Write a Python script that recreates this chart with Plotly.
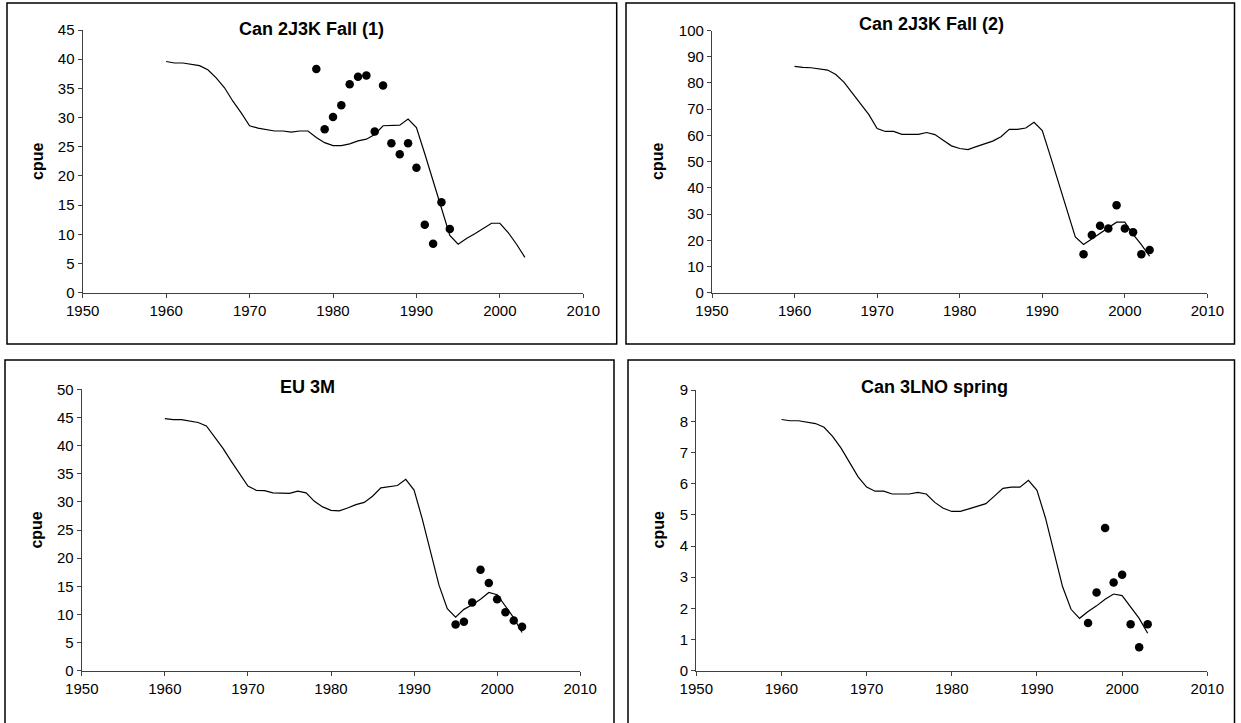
import plotly.graph_objects as go

W, H = 1241, 723

# ---------------- data ----------------
line_years = list(range(1960, 2004))

titles = ["Can 2J3K Fall (1)", "Can 2J3K Fall (2)", "EU 3M", "Can 3LNO spring"]

line_2j3k_1 = [39.6, 39.35, 39.35, 39.1, 38.9, 38.2, 36.8, 35.1, 32.8, 30.8,
               28.6, 28.2, 28.0, 27.7, 27.7, 27.5, 27.7, 27.7, 26.6, 25.7,
               25.2, 25.2, 25.5, 26.0, 26.3, 27.1, 28.6, 28.6, 28.7, 29.75,
               28.3, 23.8, 19.2, 14.3, 9.8, 8.3, 9.3, 10.1, 11.0, 11.9,
               11.9, 10.3, 8.3, 6.05]
pts_2j3k_1_years = [1978, 1979, 1980, 1981, 1982, 1983, 1984, 1985, 1986,
                    1987, 1988, 1989, 1990, 1991, 1992, 1993, 1994]
pts_2j3k_1 = [38.3, 28.0, 30.1, 32.1, 35.7, 37.0, 37.2, 27.6, 35.5,
              25.6, 23.7, 25.6, 21.4, 11.65, 8.4, 15.5, 10.9]

line_2j3k_2 = [86.3, 85.9, 85.8, 85.4, 84.9, 83.2, 80.2, 76.1, 71.9, 67.9,
               62.6, 61.5, 61.5, 60.4, 60.4, 60.4, 61.1, 60.3, 58.1, 56.0,
               55.0, 54.6, 55.7, 56.7, 57.8, 59.5, 62.3, 62.3, 62.8, 65.0,
               61.8, 51.9, 41.5, 30.9, 21.3, 18.4, 20.5, 22.7, 24.9, 26.9,
               26.9, 22.2, 18.3, 13.9]
pts_2j3k_2_years = [1995, 1996, 1997, 1998, 1999, 2000, 2001, 2002, 2003]
pts_2j3k_2 = [14.7, 22.0, 25.5, 24.5, 33.4, 24.5, 23.1, 14.7, 16.3]

line_eu3m = [44.8, 44.6, 44.6, 44.4, 44.1, 43.5, 41.6, 39.5, 37.2, 35.0,
             32.8, 32.05, 32.0, 31.6, 31.5, 31.5, 31.9, 31.6, 30.1, 29.1,
             28.5, 28.4, 28.9, 29.5, 29.9, 31.0, 32.5, 32.7, 32.9, 34.0,
             32.1, 26.9, 21.3, 15.2, 11.0, 9.5, 10.9, 11.7, 12.7, 13.9,
             13.5, 11.4, 9.4, 6.8]
pts_eu3m_years = [1995, 1996, 1997, 1998, 1999, 2000, 2001, 2002, 2003]
pts_eu3m = [8.2, 8.7, 12.1, 17.95, 15.6, 12.7, 10.4, 8.9, 7.8]

line_3lno = [8.06, 8.02, 8.02, 7.98, 7.93, 7.81, 7.52, 7.14, 6.67, 6.22,
             5.89, 5.76, 5.76, 5.67, 5.67, 5.67, 5.72, 5.67, 5.40, 5.21,
             5.11, 5.11, 5.19, 5.28, 5.36, 5.60, 5.85, 5.89, 5.89, 6.11,
             5.79, 4.90, 3.77, 2.70, 1.97, 1.68, 1.90, 2.08, 2.29, 2.46,
             2.41, 2.06, 1.68, 1.20]
pts_3lno_years = [1996, 1997, 1998, 1999, 2000, 2001, 2002, 2003]
pts_3lno = [1.53, 2.51, 4.58, 2.83, 3.08, 1.49, 0.75, 1.49]

x_ticks = [1950, 1960, 1970, 1980, 1990, 2000, 2010]
y_max = [45, 100, 50, 9]
y_step = [5, 10, 5, 1]

# ---------------- layout geometry (pixels) ----------------
plot_px = [  # x0, x1, ytop, ybottom
    (82.7, 583.3, 30.0, 292.7),
    (712.0, 1207.4, 30.5, 292.7),
    (81.8, 580.2, 389.3, 670.7),
    (696.3, 1207.3, 390.2, 670.7),
]
box_px = [
    (7, 616.7, 3, 344),
    (626, 1234.5, 3, 344),
    (5, 614, 360, 726),
    (628, 1234.5, 360, 726),
]
title_px = [(311.5, 29.5), (931, 24), (307.5, 387), (934, 387)]
ylab_px = [(37.5, 161.5), (657.5, 161.5), (35.6, 530), (657.5, 530)]

def fx(p):
    return p / W

def fy(p):
    return 1 - p / H

lines = [line_2j3k_1, line_2j3k_2, line_eu3m, line_3lno]
pts_x = [pts_2j3k_1_years, pts_2j3k_2_years, pts_eu3m_years, pts_3lno_years]
pts_y = [pts_2j3k_1, pts_2j3k_2, pts_eu3m, pts_3lno]

FONT = "Liberation Sans, Arial, sans-serif"
fig = go.Figure()
layout = dict(template="none", width=W, height=H,
              margin=dict(l=0, r=0, t=0, b=0, pad=0, autoexpand=False),
              paper_bgcolor="white", plot_bgcolor="white", showlegend=False,
              font=dict(family=FONT, color="black"))
shapes, annots = [], []

for i in range(4):
    n = "" if i == 0 else str(i + 1)
    xa, ya = "x" + n, "y" + n
    fig.add_trace(go.Scatter(x=line_years, y=lines[i], mode="lines",
                             line=dict(color="black", width=1.2),
                             xaxis=xa, yaxis=ya, hoverinfo="x+y"))
    fig.add_trace(go.Scatter(x=pts_x[i], y=pts_y[i], mode="markers",
                             marker=dict(color="black", size=8.5, symbol="circle",
                                         line=dict(width=0)),
                             xaxis=xa, yaxis=ya, cliponaxis=False))
    x0, x1, yt, yb = plot_px[i]
    axis_common = dict(showgrid=False, zeroline=False, showline=True, automargin=False,
                       linecolor="#404040", linewidth=1.3, mirror=False,
                       ticks="outside", ticklen=4, tickwidth=1.2, tickcolor="#404040",
                       tickfont=dict(family=FONT, size=15, color="black"))
    layout["xaxis" + n] = dict(axis_common, domain=[fx(x0), fx(x1)], range=[1950, 2010],
                               tickmode="array", tickvals=x_ticks,
                               ticktext=[str(t) for t in x_ticks],
                               anchor=ya, fixedrange=True)
    layout["yaxis" + n] = dict(axis_common, domain=[fy(yb), fy(yt)], range=[0, y_max[i]],
                               tickmode="linear", tick0=0, dtick=y_step[i],
                               anchor=xa, fixedrange=True)
    bx0, bx1, by0, by1 = box_px[i]
    shapes.append(dict(type="rect", xref="paper", yref="paper",
                       x0=fx(bx0), x1=fx(bx1), y0=fy(by1), y1=fy(by0),
                       line=dict(color="black", width=1.5), fillcolor="rgba(0,0,0,0)"))
    tx, ty = title_px[i]
    annots.append(dict(text="<b>" + titles[i] + "</b>", xref="paper", yref="paper",
                       x=fx(tx), y=fy(ty), xanchor="center", yanchor="middle",
                       showarrow=False, font=dict(family=FONT, size=18, color="black")))
    lx, ly = ylab_px[i]
    annots.append(dict(text="<b>cpue</b>", xref="paper", yref="paper",
                       x=fx(lx), y=fy(ly), xanchor="center", yanchor="middle",
                       textangle=-90, showarrow=False,
                       font=dict(family=FONT, size=16, color="black")))

layout["shapes"] = shapes
layout["annotations"] = annots
fig.update_layout(**layout)
fig.write_html("out.html", config={"displayModeBar": False},
               post_script="document.body.style.margin='0';document.body.style.padding='0';")
